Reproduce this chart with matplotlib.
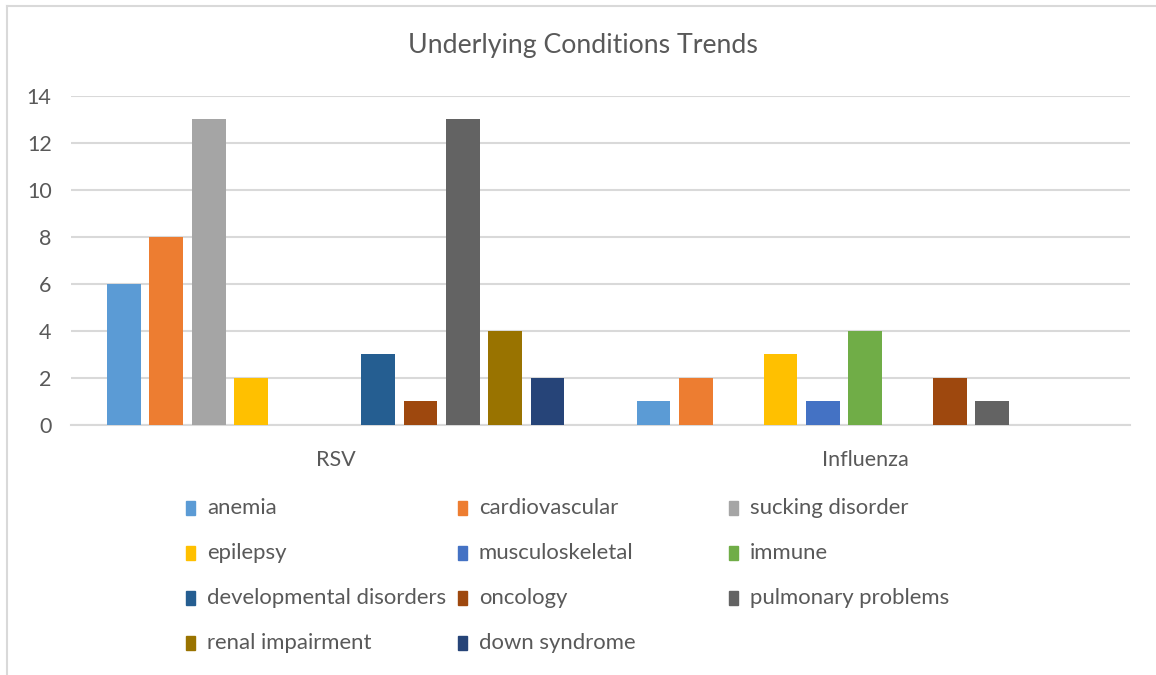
import matplotlib.pyplot as plt
import matplotlib.patches as mpatches
import numpy as np

plt.rcParams['font.family'] = ['Lato', 'DejaVu Sans']

# ---- data ----
categories = ['RSV', 'Influenza']
conditions = ['anemia', 'cardiovascular', 'sucking disorder', 'epilepsy',
              'musculoskeletal', 'immune', 'developmental disorders',
              'oncology', 'pulmonary problems', 'renal impairment',
              'down syndrome']
rsv = [6, 8, 13, 2, 0, 0, 3, 1, 13, 4, 2]
influenza = [1, 2, 0, 3, 1, 4, 0, 2, 1, 0, 0]
colors = ['#5B9BD5', '#ED7D31', '#A5A5A5', '#FFC000', '#4472C4', '#70AD47',
          '#255E91', '#9E480E', '#636363', '#997300', '#264478']

text_col = '#595959'
grid_col = '#D9D9D9'

fig = plt.figure(figsize=(11.56, 6.75), dpi=100)
ax = fig.add_axes([71/1156, 1 - 425/675, (1130 - 71)/1156, (425 - 95.5)/675])

x = np.arange(len(categories))
pitch = 0.08
width = 0.064
n = len(conditions)
for i, name in enumerate(conditions):
    vals = [rsv[i], influenza[i]]
    offs = (i - (n - 1) / 2) * pitch
    ax.bar(x + offs, vals, width, color=colors[i], zorder=3)

ax.set_xlim(-0.5, 1.5)
ax.set_ylim(0, 14)
ax.set_yticks(range(0, 15, 2))
ax.set_xticks(x)
ax.set_xticklabels(categories)
ax.yaxis.grid(True, color=grid_col, linewidth=1.5, zorder=0)
for s in ['top', 'right', 'left']:
    ax.spines[s].set_visible(False)
ax.spines['bottom'].set_color(grid_col)
ax.spines['bottom'].set_linewidth(1.5)
ax.tick_params(axis='both', length=0, labelsize=15.5, colors=text_col)
ax.tick_params(axis='y', pad=14)
ax.tick_params(axis='x', pad=18)

fig.text(583/1156, 1 - 46/675, 'Underlying Conditions Trends', ha='center',
         va='center', fontsize=19.2, color=text_col)

# legend laid out row by row, like the original
col_x = [190, 462, 733]
row_y = [508, 553, 598, 643]
for i, name in enumerate(conditions):
    r, c = divmod(i, 3)
    mx = col_x[c]
    my = row_y[r]
    fig.patches.append(mpatches.Rectangle(((mx - 4)/1156, 1 - (my + 7)/675),
                                          9/1156, 14/675, color=colors[i],
                                          transform=fig.transFigure))
    fig.text((mx + 17)/1156, 1 - my/675, name, ha='left', va='center',
             fontsize=15.9, color=text_col)

# chart border (top and left visible)
fig.add_artist(plt.Line2D([7/1156, 7/1156], [0, 1 - 6/675], color=grid_col,
                          linewidth=1.5, transform=fig.transFigure))
fig.add_artist(plt.Line2D([7/1156, 1], [1 - 6/675, 1 - 6/675], color=grid_col,
                          linewidth=1.5, transform=fig.transFigure))

fig.savefig('out.png', dpi=100, facecolor='white')
